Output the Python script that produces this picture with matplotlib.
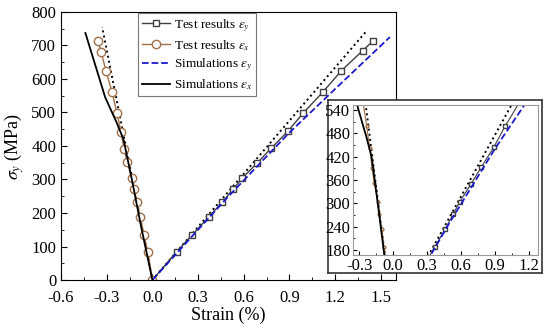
import matplotlib.pyplot as plt
import matplotlib.ticker as mticker

plt.rcParams['font.family'] = 'Liberation Serif'
plt.rcParams['mathtext.fontset'] = 'stix'

# test results, strain eps_y (%) vs stress (MPa)
test_ey_x = [0.0, 0.16, 0.26, 0.37, 0.46, 0.53, 0.59, 0.69, 0.78, 0.89, 0.99, 1.12, 1.24, 1.38, 1.45]
test_ey_s = [0, 85, 134, 188, 233, 271, 304, 350, 393, 444, 498, 561, 624, 684, 714]

# test results, strain eps_x
test_ex_x = [0.0, -0.03, -0.055, -0.08, -0.10, -0.12, -0.134, -0.166, -0.186, -0.206, -0.233, -0.265, -0.305, -0.337, -0.357]
test_ex_s = [0, 84, 134, 188, 233, 271, 304, 352, 391, 442, 498, 561, 624, 681, 713]

# simulations
sim_ey_x = [0.0, 0.5, 0.9, 1.2, 1.56]
sim_ey_s = [0, 250, 440, 570, 725]
sim_ex_x = [0.0, -0.07, -0.135, -0.19, -0.235, -0.31, -0.44]
sim_ex_s = [0, 150, 300, 420, 470, 545, 737]

# dotted reference lines
ref_y_x = [0.0, 1.41]
ref_y_s = [0, 745]
ref_x_x = [0.0, -0.33]
ref_x_s = [0, 755]


def draw(ax, ms_sq, ms_ci, lw):
    ax.plot(ref_y_x, ref_y_s, ':', color='black', lw=1.4)
    ax.plot(ref_x_x, ref_x_s, ':', color='black', lw=1.4)
    ax.plot(test_ey_x, test_ey_s, '-s', color='#404040', mfc='white', mec='#404040',
            ms=ms_sq, lw=lw, mew=1.0, label=r'Test results $\varepsilon_y$')
    ax.plot(test_ex_x, test_ex_s, '-o', color='#a0704a', mfc='white', mec='#a0704a',
            ms=ms_ci, lw=lw, mew=1.0, label=r'Test results $\varepsilon_x$')
    ax.plot(sim_ey_x, sim_ey_s, '--', color='#1a1acc', lw=1.3, label=r'Simulations $\varepsilon_y$')
    ax.plot(sim_ex_x, sim_ex_s, '-', color='black', lw=1.3, label=r'Simulations $\varepsilon_x$')


fig = plt.figure(figsize=(5.5, 3.31), dpi=100)
ax = fig.add_axes([0.111, 0.154, 0.609, 0.810])
draw(ax, 5, 6, 1.0)
ax.set_xlim(-0.6, 1.6)
ax.set_ylim(0, 800)
ax.xaxis.set_major_locator(mticker.MultipleLocator(0.3))
ax.xaxis.set_minor_locator(mticker.MultipleLocator(0.15))
ax.yaxis.set_major_locator(mticker.MultipleLocator(100))
ax.yaxis.set_minor_locator(mticker.MultipleLocator(50))
ax.xaxis.set_major_formatter(mticker.FormatStrFormatter('%.1f'))
ax.tick_params(which='both', direction='in', labelsize=12)
ax.tick_params(which='major', length=4)
ax.tick_params(which='minor', length=2)
ax.tick_params(axis='x', pad=7)
ax.set_xlabel('Strain (%)', fontsize=13, labelpad=1)
ax.set_ylabel(r'$\sigma_y$ (MPa)', fontsize=13)
leg = ax.legend(loc='upper left', bbox_to_anchor=(0.23, 0.995), fontsize=9.5, frameon=True,
                fancybox=False, edgecolor='#555555', handlelength=2.1, borderpad=0.3,
                labelspacing=0.3, handletextpad=0.3, borderaxespad=0)
leg.get_frame().set_linewidth(0.8)

# inset: outer white box, then the zoomed axes
box = fig.add_axes([0.596, 0.175, 0.389, 0.523])
box.set_xticks([])
box.set_yticks([])
for s in box.spines.values():
    s.set_linewidth(1.2)
    s.set_color('#333333')

ins = fig.add_axes([0.642, 0.230, 0.336, 0.453])
draw(ins, 3, 2, 0.8)
ins.set_xlim(-0.353, 1.28)
ins.set_ylim(167, 553)
ins.xaxis.set_major_locator(mticker.MultipleLocator(0.3))
ins.xaxis.set_minor_locator(mticker.MultipleLocator(0.15))
ins.yaxis.set_major_locator(mticker.MultipleLocator(60))
ins.yaxis.set_minor_locator(mticker.MultipleLocator(30))
ins.xaxis.set_major_formatter(mticker.FormatStrFormatter('%.1f'))
ins.tick_params(which='both', direction='in', labelsize=12, pad=2)
ins.tick_params(which='major', length=3)
ins.tick_params(which='minor', length=1.5)
for s in ins.spines.values():
    s.set_color('#999999')

fig.savefig('out.png', dpi=100)
